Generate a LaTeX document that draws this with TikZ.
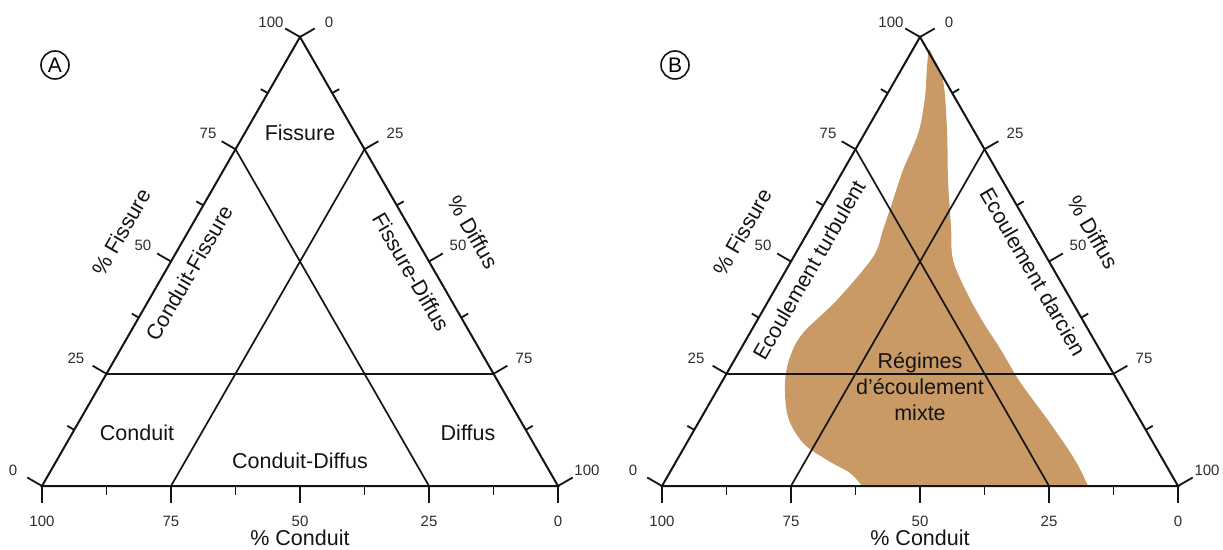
\documentclass[tikz,border=0pt]{standalone}
\usepackage{fontspec}
\setmainfont{Liberation Sans}
\usepackage{tikz}
\definecolor{figline}{RGB}{20,20,20}
\definecolor{fignum}{RGB}{45,45,45}
\definecolor{figblob}{RGB}{201,154,101}
\tikzset{
  tri/.style  ={draw=figline, line width=2pt, line join=miter},
  grd/.style  ={draw=figline, line width=1.7pt},
  tk/.style   ={draw=figline, line width=1.8pt, line cap=butt},
  lab/.style  ={font=\fontsize{21.5}{26}\selectfont, inner sep=1pt, text=figline},
  labs/.style ={font=\fontsize{15}{17}\selectfont, inner sep=1pt, text=fignum},
  tag/.style  ={circle, draw=figline, line width=1.6pt, minimum size=28pt, inner sep=0pt,
                font=\fontsize{21}{22}\selectfont},
}

\begin{document}
\begin{tikzpicture}[x=1pt,y=1pt]
  \useasboundingbox (0,0) rectangle (1223,549);
  % panel A
  \begin{scope}
  \draw[tri] (42,63) -- (558,63) -- (300,512) -- cycle;
  \draw[grd] (106.5,175.25) -- (493.5,175.25);
  \draw[grd] (235.5,399.75) -- (429,63);
  \draw[grd] (364.5,399.75) -- (171,63);
  % ticks, % Fissure
  \draw[tk] (42,63) -- ++(150:17);
  \draw[tk] (74.25,119.13) -- ++(150:8);
  \draw[tk] (106.5,175.25) -- ++(150:16);
  \draw[tk] (138.75,231.38) -- ++(150:8);
  \draw[tk] (171,287.5) -- ++(150:16);
  \draw[tk] (203.25,343.63) -- ++(150:8);
  \draw[tk] (235.5,399.75) -- ++(150:16);
  \draw[tk] (267.75,455.88) -- ++(150:8);
  \draw[tk] (300,512) -- ++(150:17);
  % ticks, % Diffus
  \draw[tk] (300,512) -- ++(30:17);
  \draw[tk] (332.25,455.88) -- ++(30:8);
  \draw[tk] (364.5,399.75) -- ++(30:16);
  \draw[tk] (396.75,343.63) -- ++(30:8);
  \draw[tk] (429,287.5) -- ++(30:16);
  \draw[tk] (461.25,231.38) -- ++(30:8);
  \draw[tk] (493.5,175.25) -- ++(30:16);
  \draw[tk] (525.75,119.13) -- ++(30:8);
  \draw[tk] (558,63) -- ++(30:17);
  % ticks, % Conduit
  \draw[tk] (42,63) -- ++(0,-17);
  \draw[tk] (106.5,63) -- ++(0,-9);
  \draw[tk] (171,63) -- ++(0,-17);
  \draw[tk] (235.5,63) -- ++(0,-9);
  \draw[tk] (300,63) -- ++(0,-17);
  \draw[tk] (364.5,63) -- ++(0,-9);
  \draw[tk] (429,63) -- ++(0,-17);
  \draw[tk] (493.5,63) -- ++(0,-9);
  \draw[tk] (558,63) -- ++(0,-17);
  % scale numbers
  \node[labs] (aF0) at (13,79) {0};
  \node[labs] (aF25) at (76,191) {25};
  \node[labs] (aF50) at (143,304) {50};
  \node[labs] (aF75) at (208,416) {75};
  \node[labs] (aF100) at (271,527) {100};
  \node[labs] (aD0) at (329,527) {0};
  \node[labs] (aD25) at (395,416) {25};
  \node[labs] (aD50) at (458,304) {50};
  \node[labs] (aD75) at (524,191) {75};
  \node[labs] (aD100) at (587,79) {100};
  \node[labs] (aC100) at (42,28) {100};
  \node[labs] (aC75) at (171,28) {75};
  \node[labs] (aC50) at (300,28) {50};
  \node[labs] (aC25) at (429,28) {25};
  \node[labs] (aC0) at (558,28) {0};
  % axis titles
  \node[lab,rotate=60] (aFis) at (121,317) {\% Fissure};
  \node[lab,rotate=-60] (aDif) at (473,317) {\% Diffus};
  \node[lab,inner sep=0pt] (aCon) at (300,11) {\% Conduit};
  % fields
  \node[tag] (tagA) at (55,484) {A};
  \node[lab] (fF) at (300,416) {Fissure};
  \node[lab,rotate=60] (fCF) at (189,276) {Conduit-Fissure};
  \node[lab,rotate=-60] (fFD) at (411,277) {Fissure-Diffus};
  \node[lab] (fC) at (137,116) {Conduit};
  \node[lab] (fCD) at (300,88) {Conduit-Diffus};
  \node[lab] (fD) at (468,116) {Diffus};
  \end{scope}
  % panel B
  \begin{scope}[xshift=620pt]
  \fill[figblob] plot[smooth, tension=0.55] coordinates {
    (242,63) (230,76) (207,89) (183,106) (168,132) (165,166) (170,192)
    (183,216) (217,249) (253,292) (263,319) (273,349) (283,379) (293,402)
    (300,422) (305,452) (307,482) (309,499) (313,492) (323,469) (327,419)
    (328,369) (331,322) (333,289) (347,256) (363,227) (381,199) (400,167)
    (430,126) (455,89) (468,63)} -- cycle;
  \draw[tri] (42,63) -- (558,63) -- (300,512) -- cycle;
  \draw[grd] (106.5,175.25) -- (493.5,175.25);
  \draw[grd] (235.5,399.75) -- (429,63);
  \draw[grd] (364.5,399.75) -- (171,63);
  % ticks, % Fissure
  \draw[tk] (42,63) -- ++(150:17);
  \draw[tk] (74.25,119.13) -- ++(150:8);
  \draw[tk] (106.5,175.25) -- ++(150:16);
  \draw[tk] (138.75,231.38) -- ++(150:8);
  \draw[tk] (171,287.5) -- ++(150:16);
  \draw[tk] (203.25,343.63) -- ++(150:8);
  \draw[tk] (235.5,399.75) -- ++(150:16);
  \draw[tk] (267.75,455.88) -- ++(150:8);
  \draw[tk] (300,512) -- ++(150:17);
  % ticks, % Diffus
  \draw[tk] (300,512) -- ++(30:17);
  \draw[tk] (332.25,455.88) -- ++(30:8);
  \draw[tk] (364.5,399.75) -- ++(30:16);
  \draw[tk] (396.75,343.63) -- ++(30:8);
  \draw[tk] (429,287.5) -- ++(30:16);
  \draw[tk] (461.25,231.38) -- ++(30:8);
  \draw[tk] (493.5,175.25) -- ++(30:16);
  \draw[tk] (525.75,119.13) -- ++(30:8);
  \draw[tk] (558,63) -- ++(30:17);
  % ticks, % Conduit
  \draw[tk] (42,63) -- ++(0,-17);
  \draw[tk] (106.5,63) -- ++(0,-9);
  \draw[tk] (171,63) -- ++(0,-17);
  \draw[tk] (235.5,63) -- ++(0,-9);
  \draw[tk] (300,63) -- ++(0,-17);
  \draw[tk] (364.5,63) -- ++(0,-9);
  \draw[tk] (429,63) -- ++(0,-17);
  \draw[tk] (493.5,63) -- ++(0,-9);
  \draw[tk] (558,63) -- ++(0,-17);
  % scale numbers
  \node[labs] (bF0) at (13,79) {0};
  \node[labs] (bF25) at (76,191) {25};
  \node[labs] (bF50) at (143,304) {50};
  \node[labs] (bF75) at (208,416) {75};
  \node[labs] (bF100) at (271,527) {100};
  \node[labs] (bD0) at (329,527) {0};
  \node[labs] (bD25) at (395,416) {25};
  \node[labs] (bD50) at (458,304) {50};
  \node[labs] (bD75) at (524,191) {75};
  \node[labs] (bD100) at (587,79) {100};
  \node[labs] (bC100) at (42,28) {100};
  \node[labs] (bC75) at (171,28) {75};
  \node[labs] (bC50) at (300,28) {50};
  \node[labs] (bC25) at (429,28) {25};
  \node[labs] (bC0) at (558,28) {0};
  % axis titles
  \node[lab,rotate=60] (bFis) at (122,317) {\% Fissure};
  \node[lab,rotate=-60] (bDif) at (473,317) {\% Diffus};
  \node[lab,inner sep=0pt] (bCon) at (300,11) {\% Conduit};
  % regimes
  \node[tag] (tagB) at (55,484) {B};
  \node[lab,rotate=60] (eTur) at (189,279) {Ecoulement turbulent};
  \node[lab,rotate=-60] (eDar) at (413,277) {Ecoulement darcien};
  \node[lab,align=center] (eMix) at (300,162) {Régimes\\d’écoulement\\mixte};
  \end{scope}
\end{tikzpicture}
\end{document}
